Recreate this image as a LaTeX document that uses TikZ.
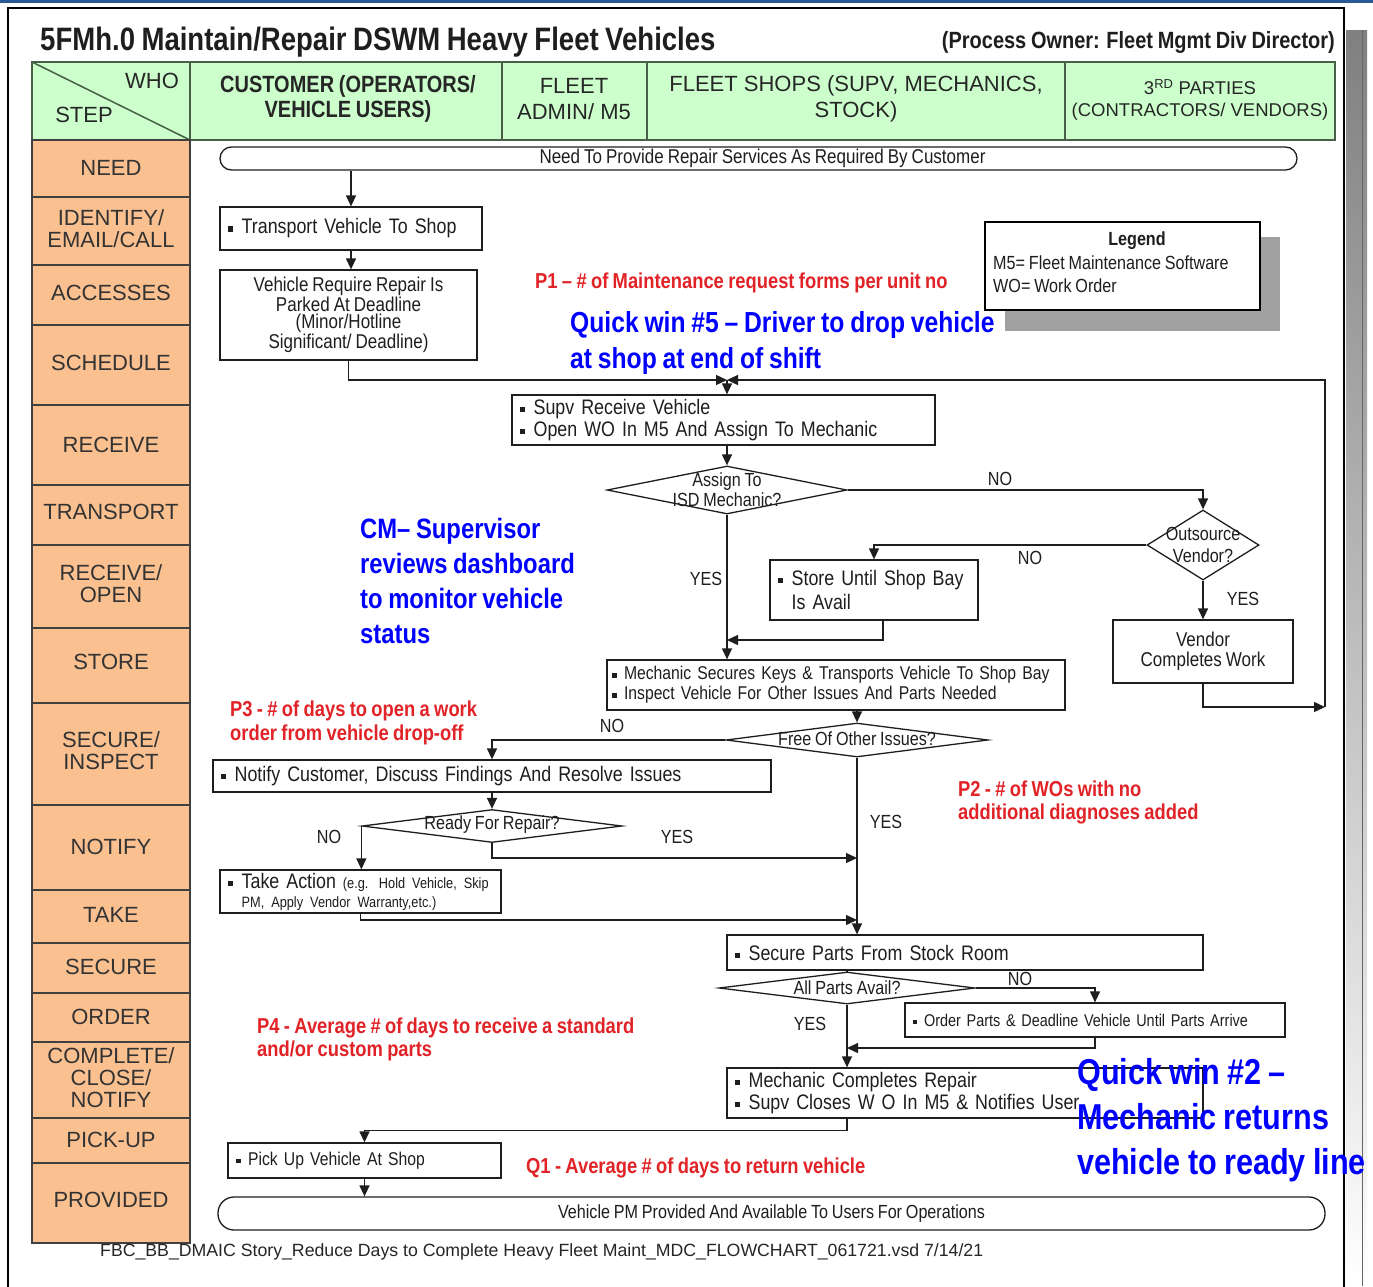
\documentclass[tikz,border=0pt]{standalone}
\usepackage{fontspec}
\setmainfont{Liberation Sans}
\newfontfamily\nar[FakeStretch=0.85,WordSpace=0.85]{Liberation Sans}
\usetikzlibrary{shapes.geometric,arrows.meta,calc}
\definecolor{hdrgreen}{RGB}{204,255,204}
\definecolor{steporange}{RGB}{250,192,144}
\definecolor{topblue}{RGB}{40,90,150}
\definecolor{pred}{RGB}{225,35,40}
\definecolor{qblue}{RGB}{0,0,255}
\definecolor{ink}{RGB}{30,30,30}
\definecolor{hdrline}{RGB}{70,95,70}
\definecolor{shade}{RGB}{200,200,200}
\definecolor{legshade}{RGB}{160,160,160}
\newcommand\bul{\raisebox{0.2ex}{\rule{0.25em}{0.25em}}\hspace{0.4em}}
\newcommand\bulsp{\hphantom{\bul}}
\newcommand\fs[2]{\fontsize{#1}{#2}\selectfont}

\begin{document}
\begin{tikzpicture}[x=1pt,y=-1pt,
  every node/.style={inner sep=0pt, text=ink},
  box/.style={draw=ink, line width=1.3pt, fill=white, rectangle},
  boxl/.style={box, align=left, inner xsep=8pt, inner ysep=0pt, font=\nar\fs{21}{22}},
  boxc/.style={box, align=center, font=\nar\fs{20}{20}},
  dia/.style={draw=ink, line width=1.3pt, fill=white, diamond, inner sep=0pt},
  term/.style={draw=ink, line width=1.3pt, fill=white, rectangle, align=center},
  ln/.style={draw=ink, line width=1.3pt},
  arr/.style={ln, -{Triangle[length=11pt,width=10pt]}},
  yn/.style={font=\nar\fs{19}{19}},
  steptxt/.style={font=\fs{22}{22}, align=center, text=black!80},
  hdrtxt/.style={font=\fs{22}{26}, align=center, text=black!85},
  redtxt/.style={font=\nar\bfseries\fs{21.6}{23}, text=pred, align=left, anchor=west},
  bluetxt/.style={font=\nar\bfseries, text=qblue, align=left, anchor=west}
]
\useasboundingbox (0,0) rectangle (1373,1286);
\fill[white] (0,0) rectangle (1373,1286);

% page frame, top rule and side shadow
\fill[shade] (1346,30) rectangle (1367,1286);
\draw[black!60, line width=1pt] (1362,30) -- (1362,1286);
\draw[black, line width=1.2pt] (8,8) rectangle (1344,1300);
\draw[topblue, line width=3pt] (0,1.5) -- (1373,1.5);

% title line
\node[font=\nar\bfseries\fs{32.4}{33}, anchor=west] (title) at (40,42)
  {5FMh.0 Maintain/Repair DSWM Heavy Fleet Vehicles};
\node[font=\nar\bfseries\fs{23.5}{24}, anchor=east] (owner) at (1335,42)
  {(Process Owner: Fleet Mgmt Div Director)};

% swim lane header
\fill[hdrgreen] (32,62) rectangle (1335,140);
\draw[hdrline, line width=1.5pt] (32,62) -- (190,140);
\foreach \x in {190,502,647,1065} \draw[hdrline, line width=1.5pt] (\x,62) -- (\x,140);
\draw[hdrline, line width=2pt] (32,62) rectangle (1335,140);
\node[hdrtxt] (who) at (152,81) {WHO};
\node[hdrtxt] (stp) at (84,115) {STEP};
\node[hdrtxt, font=\nar\bfseries\fs{23.5}{25}] (hcust) at (348,99) {CUSTOMER (OPERATORS/\\VEHICLE USERS)};
\node[hdrtxt] (hadmin) at (574,99) {FLEET\\ADMIN/ M5};
\node[hdrtxt] (hshops) at (856,99) {FLEET SHOPS (SUPV, MECHANICS,\\STOCK)};
\node[hdrtxt, font=\fs{18.5}{22}] (hthird) at (1200,100) {3\textsuperscript{RD} PARTIES\\(CONTRACTORS/ VENDORS)};

% step column
\fill[steporange] (32,140) rectangle (190,1243);
\foreach \y in {197,265,325,405,485,545,628,703,805,890,943,993,1042,1118,1163}
  \draw[black!75, line width=1.2pt] (32,\y) -- (190,\y);
\draw[black!75, line width=2pt] (32,140) rectangle (190,1243);
\node[steptxt] (s1) at (111,168) {NEED};
\node[steptxt] (s2) at (111,229) {IDENTIFY/\\EMAIL/CALL};
\node[steptxt] (s3) at (111,293) {ACCESSES};
\node[steptxt] (s4) at (111,363) {SCHEDULE};
\node[steptxt] (s5) at (111,445) {RECEIVE};
\node[steptxt] (s6) at (111,512) {TRANSPORT};
\node[steptxt] (s7) at (111,584) {RECEIVE/\\OPEN};
\node[steptxt] (s8) at (111,662) {STORE};
\node[steptxt] (s9) at (111,751) {SECURE/\\INSPECT};
\node[steptxt] (s10) at (111,847) {NOTIFY};
\node[steptxt] (s11) at (111,915) {TAKE};
\node[steptxt] (s12) at (111,967) {SECURE};
\node[steptxt] (s13) at (111,1017) {ORDER};
\node[steptxt] (s14) at (111,1078) {COMPLETE/\\CLOSE/\\NOTIFY};
\node[steptxt] (s15) at (111,1140) {PICK-UP};
\node[steptxt] (s16) at (111,1200) {PROVIDED};

% legend
\fill[legshade] (1005,237) rectangle (1280,331);
\node[draw=black, line width=1.4pt, fill=white, minimum width=275, minimum height=88] (legend) at (1122.5,266) {};
\node[font=\nar\bfseries\fs{19}{19}] (legt) at (1137,241) {Legend};
\node[font=\nar\fs{19}{23}, align=left, anchor=north west] (legb) at (993,256)
  {M5= Fleet Maintenance Software\\WO= Work Order};

% process steps
\node[term, rounded corners=11.5pt, minimum width=1077, minimum height=23, font=\nar\fs{20}{20}] (need) at (758.5,158.5)
  {\hspace{8pt}Need To Provide Repair Services As Required By Customer};
\node[boxl, text width=246, minimum height=43] (transport) at (351,228.5) {\bul Transport Vehicle To Shop};
\node[boxc, minimum width=257, minimum height=90, font=\nar\fs{20}{17.5}] (vehreq) at (348.5,315)
  {Vehicle Require Repair Is\\Parked At Deadline\\(Minor/Hotline\\Significant/ Deadline)};
\node[boxl, text width=407, minimum height=50] (supv) at (723.5,420)
  {\bul Supv Receive Vehicle\\\bul Open WO In M5 And Assign To Mechanic};
\node[dia, minimum width=240, minimum height=48] (assign) at (727,490) {};
\node[font=\nar\fs{19}{20}, align=center] (assignt) at (727,490) {Assign To\\ISD Mechanic?};
\node[dia, minimum width=112, minimum height=70] (outs) at (1203,545) {};
\node[font=\nar\fs{19}{22}, align=center] (outst) at (1203,545) {Outsource\\Vendor?};
\node[boxl, text width=192, minimum height=60, font=\nar\fs{21}{24}] (store) at (874,590)
  {\bul Store Until Shop Bay\\\bulsp Is Avail};
\node[boxc, minimum width=180, minimum height=63] (vendor) at (1203,651.5) {Vendor\\Completes Work};
\node[boxl, text width=448, inner xsep=5pt, minimum height=50, font=\nar\fs{18.5}{20}] (mech) at (836,685)
  {\bul Mechanic Secures Keys \& Transports Vehicle To Shop Bay\\\bul Inspect Vehicle For Other Issues And Parts Needed};
\node[dia, minimum width=262, minimum height=34] (free) at (857,740) {};
\node[font=\nar\fs{19}{19}] (freet) at (857,739) {Free Of Other Issues?};
\node[boxl, text width=542, minimum height=32] (notify) at (492,776)
  {\bul Notify Customer, Discuss Findings And Resolve Issues};
\node[dia, minimum width=260, minimum height=33] (ready) at (492,826) {};
\node[font=\nar\fs{19}{19}] (readyt) at (492,825) {Ready For Repair?};
\node[boxl, text width=265, minimum height=43, font=\nar\fs{21}{19}] (take) at (360.5,891.5)
  {\bul Take Action {\fs{15}{19}(e.g. Hold Vehicle, Skip}\\\bulsp{\fs{15}{19}PM, Apply Vendor Warranty,etc.)}};
\node[boxl, text width=460, minimum height=35] (parts) at (965,952.5) {\bul Secure Parts From Stock Room};
\node[dia, minimum width=256, minimum height=32] (allparts) at (847,988) {};
\node[font=\nar\fs{19}{19}] (allpartst) at (847,988) {All Parts Avail?};
\node[boxl, text width=364, minimum height=34, font=\nar\fs{17}{17}] (order) at (1095,1020)
  {\bul Order Parts \& Deadline Vehicle Until Parts Arrive};
\node[boxl, text width=460, minimum height=50] (complete) at (965,1093)
  {\bul Mechanic Completes Repair\\\bul Supv Closes W O In M5 \& Notifies User};
\node[boxl, text width=257, minimum height=35, font=\nar\fs{18.5}{19}] (pickup) at (364.5,1160.5) {\bul Pick Up Vehicle At Shop};
\node[term, rounded corners=16pt, minimum width=1107, minimum height=33, font=\nar\fs{19}{19}] (done) at (771.5,1213.5)
  {Vehicle PM Provided And Available To Users For Operations};

% junction points
\coordinate (jn) at (727,380);
\coordinate (rt) at (1325,707);
\coordinate (m1) at (727,640);
\coordinate (m2) at (857,858);
\coordinate (m3) at (857,920);
\coordinate (m4) at (847,1048);

% connectors
\draw[arr] (transport.north |- need.south) -- (transport.north);
\draw[arr] (transport.south) -- (transport.south |- vehreq.north);
\draw[arr] (vehreq.south) |- (jn);
\draw[arr] (vendor.south) |- (rt);
\draw[arr] (rt) |- (jn);
\draw[arr] (jn) -- (jn |- supv.north);
\draw[arr] (assign.north |- supv.south) -- (assign.north);
\draw[arr] (assign.east) -| (outs.north);
\draw[arr] (outs.west) -| (store.north);
\draw[arr] ([xshift=9pt]store.south) |- (m1);
\draw[arr] (assign.south) -- (assign.south |- mech.north);
\draw[arr] (outs.south) -- (vendor.north);
\draw[arr] (free.north |- mech.south) -- (free.north);
\draw[arr] (free.west) -| (notify.north);
\draw[arr] (notify.south) -- (ready.north);
\draw[arr] (ready.west) -- (ready.west |- take.north);
\draw[arr] (ready.south) |- (m2);
\draw[arr] (take.south) |- (m3);
\draw[arr] (free.south) -- (free.south |- parts.north);
\draw[ln] (allparts.north |- parts.south) -- (allparts.north);
\draw[arr] (allparts.east) -| (order.north);
\draw[arr] (order.south) |- (m4);
\draw[arr] (allparts.south) -- (allparts.south |- complete.north);
\draw[arr] (allparts.south |- complete.south) -- ++(0,12) -| (pickup.north);
\draw[arr] (pickup.south) -- (pickup.south |- done.north);

% branch labels
\node[yn] (l1) at (1000,479) {NO};
\node[yn] (l2) at (1030,558) {NO};
\node[yn] (l3) at (706,579) {YES};
\node[yn] (l4) at (1243,599) {YES};
\node[yn] (l5) at (612,726) {NO};
\node[yn] (l6) at (329,837) {NO};
\node[yn] (l7) at (677,837) {YES};
\node[yn] (l8) at (886,822) {YES};
\node[yn] (l9) at (1020,979) {NO};
\node[yn] (l10) at (810,1024) {YES};

% measures
\node[redtxt] (p1) at (535,283) {P1 – \# of Maintenance request forms per unit no};
\node[redtxt, font=\nar\bfseries\fs{21.6}{24}] (p3) at (230,723) {P3 - \# of days to open a work\\order from vehicle drop-off};
\node[redtxt] (p2) at (958,802) {P2 - \# of WOs with no\\additional diagnoses added};
\node[redtxt] (p4) at (257,1039) {P4 - Average \# of days to receive a standard\\and/or custom parts};
\node[redtxt] (q1) at (526,1168) {Q1 - Average \# of days to return vehicle};

% improvement notes
\node[bluetxt, font=\nar\bfseries\fs{29}{36}] (qw5) at (570,343) {Quick win \#5 – Driver to drop vehicle\\at shop at end of shift};
\node[bluetxt, font=\nar\bfseries\fs{28}{35}] (cm) at (360,581) {CM– Supervisor\\reviews dashboard\\to monitor vehicle\\status};
\node[bluetxt, font=\nar\bfseries\fs{36}{45}] (qw2) at (1077,1120) {Quick win \#2 –\\Mechanic returns\\vehicle to ready line};

% file reference
\node[font=\fs{17.7}{18}, anchor=west, text=black!85] (foot) at (100,1252)
  {FBC\_BB\_DMAIC Story\_Reduce Days to Complete Heavy Fleet Maint\_MDC\_FLOWCHART\_061721.vsd 7/14/21};
\end{tikzpicture}
\end{document}
